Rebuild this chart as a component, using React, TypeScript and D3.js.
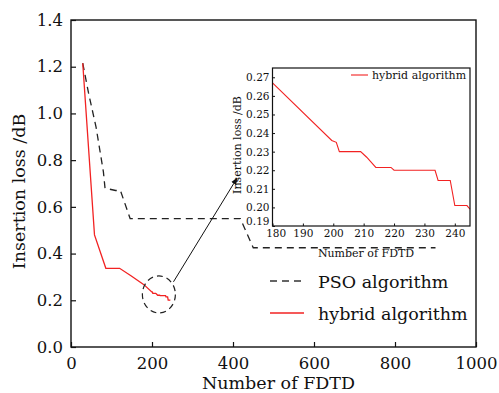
import React, { useEffect, useRef } from 'react';
import * as d3 from 'd3';

// main chart data
const psoX = [29, 43, 62, 80, 84, 110, 122, 146, 418, 450, 900];
const psoY = [1.215, 1.09, 0.94, 0.75, 0.68, 0.67, 0.67, 0.55, 0.55, 0.425, 0.425];

const hybridX = [29, 58, 86, 120, 148, 180, 199.5, 201, 202, 209, 211, 214, 219, 220, 233.5, 234.5, 238.5, 240, 244, 245];
const hybridY = [1.215, 0.48, 0.337, 0.337, 0.305, 0.267, 0.236, 0.235, 0.23, 0.23, 0.227, 0.2215, 0.2215, 0.22, 0.22, 0.2145, 0.2145, 0.201, 0.201, 0.199];

const xTicks = [0, 200, 400, 600, 800, 1000];
const yTicks = [0, 0.2, 0.4, 0.6, 0.8, 1.0, 1.2, 1.4];
const insetXTicks = [180, 190, 200, 210, 220, 230, 240];
const insetYTicks = [0.19, 0.2, 0.21, 0.22, 0.23, 0.24, 0.25, 0.26, 0.27];

const legendLabels = ['PSO algorithm', 'hybrid algorithm'];

// zoom circle centre and arrow (data units)
const circleCenter = [217, 0.225];
const arrowFrom = [253, 0.279];
const arrowTo = [410, 0.723];

const FONT = 'DejaVu Serif';

function App() {
  const ref = useRef<SVGSVGElement>(null);

  useEffect(() => {
    drawChart();
  });

  function drawChart() {
    const width = 499;
    const height = 393;
    const margin = { top: 20, right: 23, bottom: 46, left: 71 };
    const red = '#f22222';

    const svg = d3.select(ref.current);
    svg.selectAll('*').remove();

    const x = d3.scaleLinear().domain([0, 1000]).range([margin.left, width - margin.right]);
    const y = d3.scaleLinear().domain([0, 1.4]).range([height - margin.bottom, margin.top]);

    const pso = psoX.map((d, i) => [d, psoY[i]]);
    const hybrid = hybridX.map((d, i) => [d, hybridY[i]]);

    const line = d3.line<number[]>().x(d => x(d[0])).y(d => y(d[1]));

    // lines
    svg.append('path')
      .attr('d', line(pso))
      .attr('fill', 'none')
      .attr('stroke', '#222')
      .attr('stroke-width', 1.3)
      .attr('stroke-dasharray', '7,5');

    svg.append('path')
      .attr('d', line(hybrid))
      .attr('fill', 'none')
      .attr('stroke', red)
      .attr('stroke-width', 1.3);

    // frame
    svg.append('rect')
      .attr('x', margin.left)
      .attr('y', margin.top)
      .attr('width', width - margin.left - margin.right)
      .attr('height', height - margin.top - margin.bottom)
      .attr('fill', 'none')
      .attr('stroke', '#111')
      .attr('stroke-width', 1.4);

    // axes (inward ticks)
    const xAxis = svg.append('g')
      .attr('transform', `translate(0, ${height - margin.bottom})`)
      .call(d3.axisBottom(x).tickValues(xTicks).tickFormat(d3.format('d')).tickSizeInner(-5).tickSizeOuter(0).tickPadding(10));
    const yAxis = svg.append('g')
      .attr('transform', `translate(${margin.left}, 0)`)
      .call(d3.axisLeft(y).tickValues(yTicks).tickFormat(d3.format('.1f')).tickSizeInner(-5).tickSizeOuter(0).tickPadding(8));

    [xAxis, yAxis].forEach(g => {
      g.select('.domain').remove();
      g.selectAll('line').attr('stroke', '#111').attr('stroke-width', 1.2);
      g.selectAll('text')
        .style('font-family', FONT)
        .style('font-size', '16.5px')
        .attr('fill', '#111');
    });

    svg.append('text')
      .attr('x', (margin.left + width - margin.right) / 2 + 5)
      .attr('y', 389)
      .attr('text-anchor', 'middle')
      .style('font-family', FONT)
      .style('font-size', '17.5px')
      .attr('fill', '#111')
      .text('Number of FDTD');

    svg.append('text')
      .attr('transform', `translate(25, ${(margin.top + height - margin.bottom) / 2 + 8}) rotate(-90)`)
      .attr('text-anchor', 'middle')
      .style('font-family', FONT)
      .style('font-size', '17.5px')
      .attr('fill', '#111')
      .text('Insertion loss /dB');

    // legend
    const legend = svg.append('g');
    [0, 1].forEach(i => {
      const ly = 281 + i * 32;
      legend.append('line')
        .attr('x1', 270).attr('x2', 304)
        .attr('y1', ly).attr('y2', ly)
        .attr('stroke', i === 0 ? '#333' : red)
        .attr('stroke-width', 1.3)
        .attr('stroke-dasharray', i === 0 ? '7,5' : null);
      legend.append('text')
        .attr('x', 318)
        .attr('y', ly + 7)
        .style('font-family', FONT)
        .style('font-size', '17.5px')
        .attr('fill', '#111')
        .text(legendLabels[i]);
    });

    // zoom circle + arrow
    svg.append('ellipse')
      .attr('cx', x(circleCenter[0]))
      .attr('cy', y(circleCenter[1]))
      .attr('rx', 16.5)
      .attr('ry', 18.5)
      .attr('fill', 'none')
      .attr('stroke', '#222')
      .attr('stroke-width', 1.2)
      .attr('stroke-dasharray', '6,4');

    svg.append('defs').append('marker')
      .attr('id', 'arr')
      .attr('viewBox', '0 0 10 10')
      .attr('refX', 9).attr('refY', 5)
      .attr('markerWidth', 7).attr('markerHeight', 7)
      .attr('orient', 'auto')
      .append('path')
      .attr('d', 'M0,1 L10,5 L0,9 Z')
      .attr('fill', '#111');

    svg.append('line')
      .attr('x1', x(arrowFrom[0])).attr('y1', y(arrowFrom[1]))
      .attr('x2', x(arrowTo[0])).attr('y2', y(arrowTo[1]))
      .attr('stroke', '#111')
      .attr('stroke-width', 1)
      .attr('marker-end', 'url(#arr)');

    // inset
    const ix = d3.scaleLinear().domain([180, 245]).range([272.5, 470]);
    const iy = d3.scaleLinear().domain([0.19, 0.275]).range([226, 68]);

    svg.append('rect')
      .attr('x', 272.5).attr('y', 68)
      .attr('width', 470 - 272.5).attr('height', 226 - 68)
      .attr('fill', 'white');

    const insetData = hybrid.filter(d => d[0] >= 180);
    const iline = d3.line<number[]>().x(d => ix(d[0])).y(d => iy(d[1]));
    svg.append('path')
      .attr('d', iline(insetData))
      .attr('fill', 'none')
      .attr('stroke', red)
      .attr('stroke-width', 1.1);

    svg.append('rect')
      .attr('x', 272.5).attr('y', 68)
      .attr('width', 470 - 272.5).attr('height', 226 - 68)
      .attr('fill', 'none')
      .attr('stroke', '#111')
      .attr('stroke-width', 1.2);

    const ixAxis = svg.append('g')
      .attr('transform', 'translate(0, 226)')
      .call(d3.axisBottom(ix).tickValues(insetXTicks).tickSizeInner(-2.5).tickSizeOuter(0).tickPadding(4));
    const iyAxis = svg.append('g')
      .attr('transform', 'translate(272.5, 0)')
      .call(d3.axisLeft(iy).tickValues(insetYTicks).tickFormat(d3.format('.2f')).tickSizeInner(-2.5).tickSizeOuter(0).tickPadding(3));

    [ixAxis, iyAxis].forEach(g => {
      g.select('.domain').remove();
      g.selectAll('line').attr('stroke', '#111');
      g.selectAll('text')
        .style('font-family', FONT)
        .style('font-size', '10.5px')
        .attr('fill', '#111');
    });
    // lift the 0.19 label a bit off the corner
    iyAxis.selectAll('text').filter((d: any) => d === 0.19).attr('dy', '-0.1em');
    ixAxis.selectAll('text').filter((d: any) => d === 180).attr('dx', '0.3em');

    svg.append('text')
      .attr('x', 366)
      .attr('y', 257)
      .attr('text-anchor', 'middle')
      .style('font-family', FONT)
      .style('font-size', '11px')
      .attr('fill', '#111')
      .text('Number of FDTD');

    svg.append('text')
      .attr('transform', 'translate(241, 145) rotate(-90)')
      .attr('text-anchor', 'middle')
      .style('font-family', FONT)
      .style('font-size', '11px')
      .attr('fill', '#111')
      .text('Insertion loss /dB');

    svg.append('line')
      .attr('x1', 351).attr('x2', 368)
      .attr('y1', 75).attr('y2', 75)
      .attr('stroke', red)
      .attr('stroke-width', 1.1);
    svg.append('text')
      .attr('x', 372)
      .attr('y', 79)
      .style('font-family', FONT)
      .style('font-size', '11px')
      .attr('fill', '#111')
      .text(legendLabels[1]);
  }

  return (
    <svg ref={ref} width={499} height={393}
      style={{ position: 'absolute', left: 0, top: 0, background: 'white' }} />
  );
}

export default App;
